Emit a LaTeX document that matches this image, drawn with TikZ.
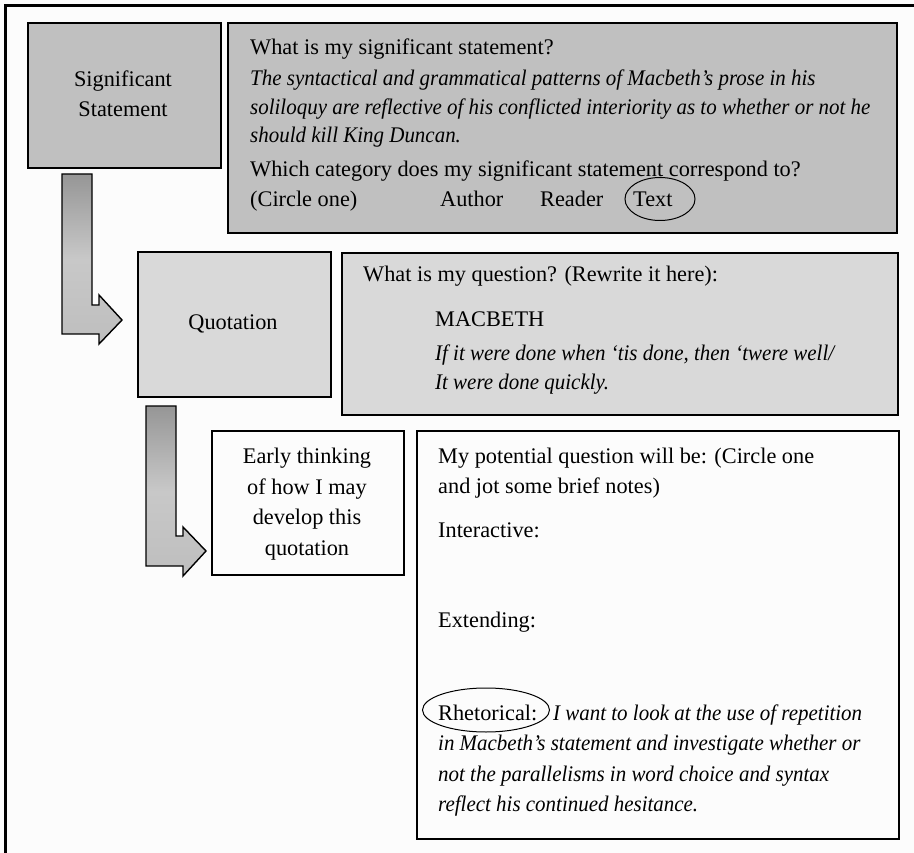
\documentclass[tikz,border=0pt]{standalone}
\usepackage{fontspec}
\setmainfont{Liberation Serif}[ItalicFeatures={FakeStretch=0.94}]
\usetikzlibrary{shapes.geometric}
\definecolor{bgc}{RGB}{252,252,252}
\definecolor{darkfill}{RGB}{192,192,192}
\definecolor{midfill}{RGB}{217,217,217}
\definecolor{arrtop}{RGB}{150,150,150}
\definecolor{arrmid}{RGB}{200,200,200}
\definecolor{arrbot}{RGB}{190,190,190}
\begin{document}
\begin{tikzpicture}[x=1pt,y=-1pt,
  box/.style={draw=black,line width=2.4pt,inner sep=0pt,anchor=north west},
  txt/.style={anchor=base west,inner sep=0pt,font=\fontsize{22.3}{29}\selectfont},
  ctxt/.style={anchor=base,inner sep=0pt,font=\fontsize{22.3}{29}\selectfont},
  oval/.style={draw=black,line width=1pt,ellipse,inner sep=0pt},
  arrowshape/.style={draw=black,line width=1.4pt,top color=arrtop,bottom color=arrbot,middle color=arrmid}]
\useasboundingbox (0,0) rectangle (914,853);
\fill[bgc] (0,0) rectangle (914,853);
% outer frame
\coordinate (fbl) at (5.5,853);
\coordinate (ftl) at (5.5,5.5);
\coordinate (ftr) at (914,5.5);
\draw[line width=3pt] (fbl) -- (ftl) -- (ftr);
% boxes
\node[box,fill=darkfill,minimum width=193pt,minimum height=145pt] (sig) at (27,22) {};
\node[box,fill=darkfill,minimum width=669pt,minimum height=210pt] (sigq) at (227,22) {};
\node[box,fill=midfill,minimum width=193pt,minimum height=145pt] (quo) at (137,251) {};
\node[box,fill=midfill,minimum width=556pt,minimum height=162pt] (quoq) at (341,252) {};
\node[box,fill=bgc,minimum width=192pt,minimum height=144pt] (early) at (211,430) {};
\node[box,fill=bgc,minimum width=482pt,minimum height=408pt] (pot) at (416,430) {};
% arrows
\path[arrowshape] (62,174) -- (92,174) -- (92,305) -- (99,305) -- (99,295) -- (122,320) -- (99,344) -- (99,334) -- (62,334) -- cycle;
\path[arrowshape] (146,406) -- (176,406) -- (176,536) -- (183,536) -- (183,527) -- (206,551) -- (183,576) -- (183,566) -- (146,566) -- cycle;
% significant statement
\node[ctxt] (s1) at (123,87) {Significant};
\node[ctxt] (s2) at (123,117) {Statement};
\node[txt] (a1) at (250,55) {What is my significant statement?};
\node[txt] (a2) at (250,86) {\itshape The syntactical and grammatical patterns of Macbeth’s prose in his};
\node[txt] (a3) at (250,115) {\itshape soliloquy are reflective of his conflicted interiority as to whether or not he};
\node[txt] (a4) at (250,143) {\itshape should kill King Duncan.};
\node[txt] (a5) at (250,177) {Which category does my significant statement correspond to?};
\node[txt] (a6) at (250,207) {(Circle one)};
\node[txt] (a7) at (440,207) {Author};
\node[txt] (a8) at (540,207) {Reader};
\node[txt] (a9) at (633,207) {Text};
\node[oval,minimum width=70pt,minimum height=43pt] (ov1) at (660,199) {};
% quotation
\node[ctxt] (q1) at (233,330) {Quotation};
\node[txt] (b1) at (363,282) {What is my question? (Rewrite it here):};
\node[txt] (b2) at (435,327) {MACBETH};
\node[txt] (b3) at (435,361) {\itshape If it were done when ‘tis done, then ‘twere well/};
\node[txt] (b4) at (435,389) {\itshape It were done quickly.};
% early thinking
\node[ctxt] (e1) at (307,463) {Early thinking};
\node[ctxt] (e2) at (307,494) {of how I may};
\node[ctxt] (e3) at (307,524) {develop this};
\node[ctxt] (e4) at (307,555) {quotation};
% potential question
\node[txt] (c1) at (438,463) {My potential question will be: (Circle one};
\node[txt] (c2) at (438,493) {and jot some brief notes)};
\node[txt] (c3) at (438,537) {Interactive:};
\node[txt] (c4) at (438,627) {Extending:};
\node[txt] (c5) at (438,720) {Rhetorical:};
\node[txt] (c5b) at (553,720) {\itshape I want to look at the use of repetition};
\node[txt] (c6) at (438,750) {\itshape in Macbeth’s statement and investigate whether or};
\node[txt] (c7) at (438,781) {\itshape not the parallelisms in word choice and syntax};
\node[txt] (c8) at (438,811) {\itshape reflect his continued hesitance.};
\node[oval,minimum width=127pt,minimum height=44pt] (ov2) at (486,710) {};
\end{tikzpicture}
\end{document}
